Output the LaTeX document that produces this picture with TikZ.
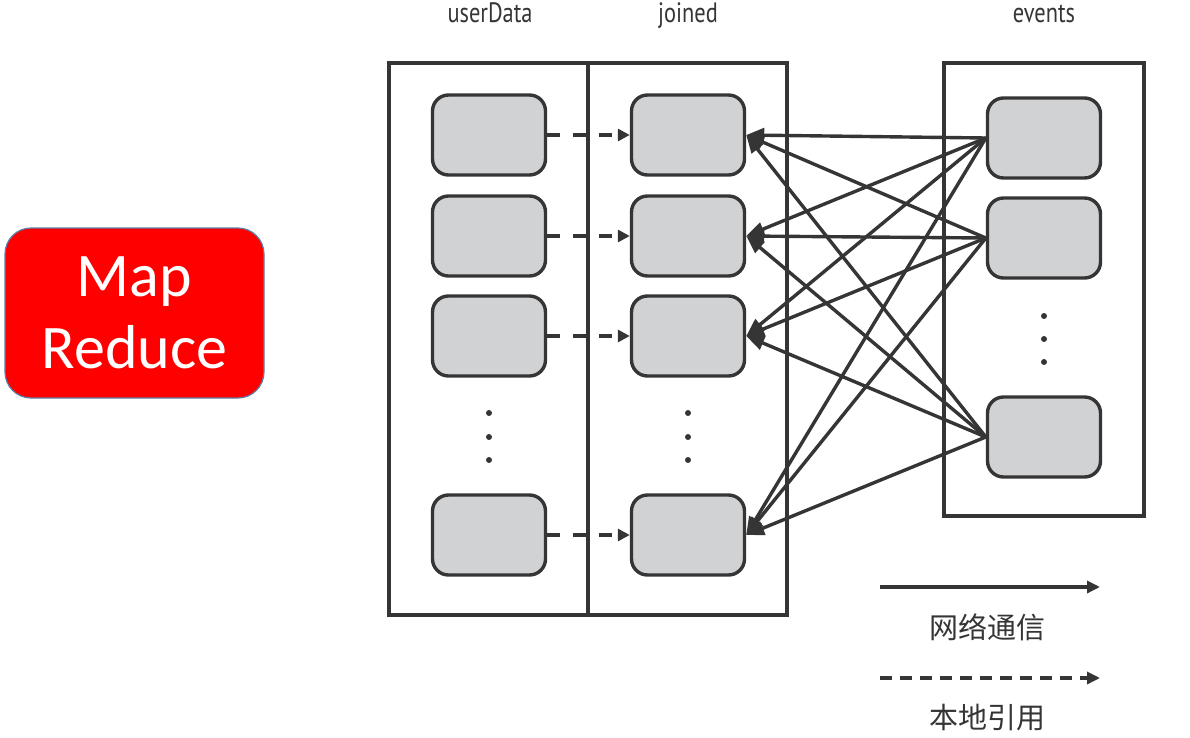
\documentclass[tikz,border=0pt]{standalone}
\usepackage{fontspec}
\setmainfont{PT Sans}
\newfontfamily\narrowfont[FakeStretch=0.8]{PT Sans}
\newfontfamily\cjk{Noto Sans CJK SC}
\newfontfamily\mapfont{Carlito}
\usetikzlibrary{arrows.meta}

\definecolor{ink}{HTML}{353535}
\definecolor{cellgray}{HTML}{D1D2D4}
\definecolor{mrred}{HTML}{FF0000}
\definecolor{mrborder}{HTML}{5A7FA8}

\tikzset{
    cell/.style={draw=ink, fill=cellgray, line width=3.4pt, rounded corners=16pt,
        minimum width=113pt, minimum height=80pt, inner sep=0pt},
    net/.style={draw=ink, line width=3.4pt, -{Triangle[length=18pt,width=14pt]}},
    local/.style={draw=ink, line width=3.4pt, dash pattern=on 13pt off 13pt,
        -{Triangle[length=12pt,width=12pt]}},
    dots/.style={fill=ink, circle, inner sep=0pt, minimum size=6pt},
    title/.style={text=ink, anchor=base, inner sep=0pt, font=\narrowfont\fontsize{28}{32}\selectfont}
}

\begin{document}
\begin{tikzpicture}[x=1pt, y=-1pt]

    \useasboundingbox (0,0) rectangle (1190,738);

    % ==========================================
    % MAPREDUCE BADGE
    % ==========================================
    \node[draw=mrborder, fill=mrred, line width=1.2pt, rounded corners=26pt,
        minimum width=259pt, minimum height=170pt, text=white, align=center,
        font=\mapfont\fontsize{62}{72}\selectfont] (badge) at (134.5, 313) {Map\\Reduce};

    % ==========================================
    % CONTAINERS
    % ==========================================
    \draw[ink, line width=3.4pt] (389, 63) rectangle (588, 615);
    \draw[ink, line width=3.4pt] (588, 63) rectangle (787, 615);
    \draw[ink, line width=3.4pt] (944, 63) rectangle (1144, 516);

    \node[title] (tuser) at (490, 23) {userData};
    \node[title] (tjoin) at (688, 23) {joined};
    \node[title] (tevent) at (1044, 23) {events};

    % ==========================================
    % CELLS
    % ==========================================

    % userData
    \node[cell] (u1) at (489, 135) {};
    \node[cell] (u2) at (489, 236) {};
    \node[cell] (u3) at (489, 336) {};
    \node[cell] (u4) at (489, 535) {};

    % joined
    \node[cell] (j1) at (688, 135) {};
    \node[cell] (j2) at (688, 236) {};
    \node[cell] (j3) at (688, 336) {};
    \node[cell] (j4) at (688, 535) {};

    % events
    \node[cell] (e1) at (1044, 138) {};
    \node[cell] (e2) at (1044, 238) {};
    \node[cell] (e3) at (1044, 437) {};

    % Ellipsis dots
    \node[dots] (ud1) at (489, 413) {};
    \node[dots] (ud2) at (489, 437) {};
    \node[dots] (ud3) at (489, 460) {};
    \node[dots] (jd1) at (688, 413) {};
    \node[dots] (jd2) at (688, 437) {};
    \node[dots] (jd3) at (688, 460) {};
    \node[dots] (ed1) at (1044, 316) {};
    \node[dots] (ed2) at (1044, 339) {};
    \node[dots] (ed3) at (1044, 362) {};

    % ==========================================
    % LOCAL REFERENCES (dashed)
    % ==========================================
    \draw[local] (u1.east) -- (j1.west);
    \draw[local] (u2.east) -- (j2.west);
    \draw[local] (u3.east) -- (j3.west);
    \draw[local] (u4.east) -- (j4.west);

    % ==========================================
    % NETWORK TRAFFIC (solid)
    % ==========================================
    \draw[net] (e1.west) -- (j1.east);
    \draw[net] (e1.west) -- (j2.east);
    \draw[net] (e1.west) -- (j3.east);
    \draw[net] (e1.west) -- (j4.east);

    \draw[net] (e2.west) -- (j1.east);
    \draw[net] (e2.west) -- (j2.east);
    \draw[net] (e2.west) -- (j3.east);
    \draw[net] (e2.west) -- (j4.east);

    \draw[net] (e3.west) -- (j1.east);
    \draw[net] (e3.west) -- (j2.east);
    \draw[net] (e3.west) -- (j3.east);
    \draw[net] (e3.west) -- (j4.east);

    % ==========================================
    % LEGEND
    % ==========================================
    \coordinate (ns) at (880, 587);
    \coordinate (ne) at (1100, 587);
    \coordinate (ls) at (880, 678);
    \coordinate (le) at (1100, 678);

    \draw[ink, line width=3.2pt, -{Triangle[length=13pt,width=12pt]}] (ns) -- (ne);
    \node[text=ink, font=\cjk\fontsize{29}{32}\selectfont] (lnet) at (987, 627) {网络通信};

    \draw[ink, line width=3.2pt, dash pattern=on 12pt off 8pt, -{Triangle[length=13pt,width=12pt]}] (ls) -- (le);
    \node[text=ink, font=\cjk\fontsize{29}{32}\selectfont] (llocal) at (987, 718) {本地引用};

\end{tikzpicture}
\end{document}
